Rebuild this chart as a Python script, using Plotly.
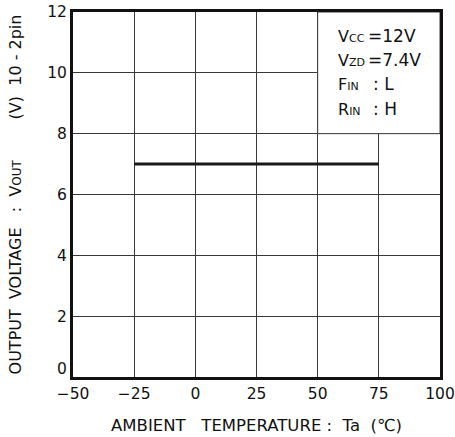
import plotly.graph_objects as go

# Data
temperature = [-25, 75]
vout = [7.0, 7.0]

x_ticks = [-50, -25, 0, 25, 50, 75, 100]
x_tick_labels = ["\u221250", "\u221225", "0", "25", "50", "75", "100"]
y_ticks = [0, 2, 4, 6, 8, 10, 12]
y_tick_labels = ["", "2", "4", "6", "8", "10", "12"]

cond_names = ["V<span style='font-size:11px'>CC</span>",
              "V<span style='font-size:11px'>ZD</span>",
              "F<span style='font-size:11px'>IN</span>",
              "R<span style='font-size:11px'>IN</span>"]
cond_values = ["=12V", "=7.4V", ":\u00a0L", ":\u00a0H"]
cond_value_x = [69.6, 69.6, 71.8, 71.8]
cond_y = [11.21, 10.42, 9.62, 8.81]

FONT = "DejaVu Sans, Liberation Sans, Arial, sans-serif"
GRID = "#3a3a3a"
S = "\u00a0"

x_title = "AMBIENT" + S * 3 + "TEMPERATURE" + S + ":" + S * 2 + "Ta" + S * 2 + "(\u2103)"
y_title = ("OUTPUT" + S * 2 + "VOLTAGE" + S * 3 + ":" + S * 2 +
           "V<span style='font-size:12px'>OUT</span>" + S * 8 + "(V)" + S * 2 +
           "10" + S + "-" + S + "2pin")

fig = go.Figure()
fig.add_trace(go.Scatter(x=temperature, y=vout, mode="lines",
                         line=dict(color="#1a1a1a", width=3),
                         showlegend=False, hoverinfo="skip"))

fig.update_xaxes(range=[-50, 100], tickvals=x_ticks, ticktext=x_tick_labels,
                 showgrid=True, gridcolor=GRID, gridwidth=1,
                 showline=True, linecolor="#111", linewidth=3, mirror=True,
                 ticks="", zeroline=False, automargin=False,
                 tickfont=dict(family=FONT, size=15.5, color="#111"),
                 title=dict(text=x_title,
                            font=dict(family=FONT, size=16.5, color="#111"),
                            standoff=18))
fig.update_yaxes(range=[0, 12], tickvals=y_ticks, ticktext=y_tick_labels,
                 showgrid=True, gridcolor=GRID, gridwidth=1,
                 showline=True, linecolor="#111", linewidth=3, mirror=True,
                 ticks="", zeroline=False, automargin=False,
                 tickfont=dict(family=FONT, size=15.5, color="#111"),
                 title=dict(text=y_title,
                            font=dict(family=FONT, size=16, color="#111"),
                            standoff=22))

# white condition box covering grid in upper-right
fig.add_shape(type="rect", x0=50, x1=100, y0=8, y1=12, xref="x", yref="y",
              fillcolor="white", line=dict(color=GRID, width=1), layer="between")

# "0" y tick label (raised)
fig.add_annotation(x=0, y=0, xref="paper", yref="y", text="0", showarrow=False,
                   xanchor="right", yanchor="middle", xshift=-4, yshift=8,
                   font=dict(family=FONT, size=15.5, color="#111"))

for name, val, vx, yy in zip(cond_names, cond_values, cond_value_x, cond_y):
    fig.add_annotation(x=57.5, y=yy, xref="x", yref="y", text=name, showarrow=False,
                       xanchor="left", yanchor="middle",
                       font=dict(family=FONT, size=16, color="#111"))
    fig.add_annotation(x=vx, y=yy, xref="x", yref="y", text=val, showarrow=False,
                       xanchor="left", yanchor="middle",
                       font=dict(family=FONT, size=17, color="#111"))

fig.update_layout(width=455, height=437,
                  margin=dict(l=73, r=15, t=12, b=60),
                  paper_bgcolor="white", plot_bgcolor="white",
                  showlegend=False)

fig.write_html("out.html", config={"displayModeBar": False},
               post_script="document.body.style.margin='0';document.body.style.overflow='hidden';")
